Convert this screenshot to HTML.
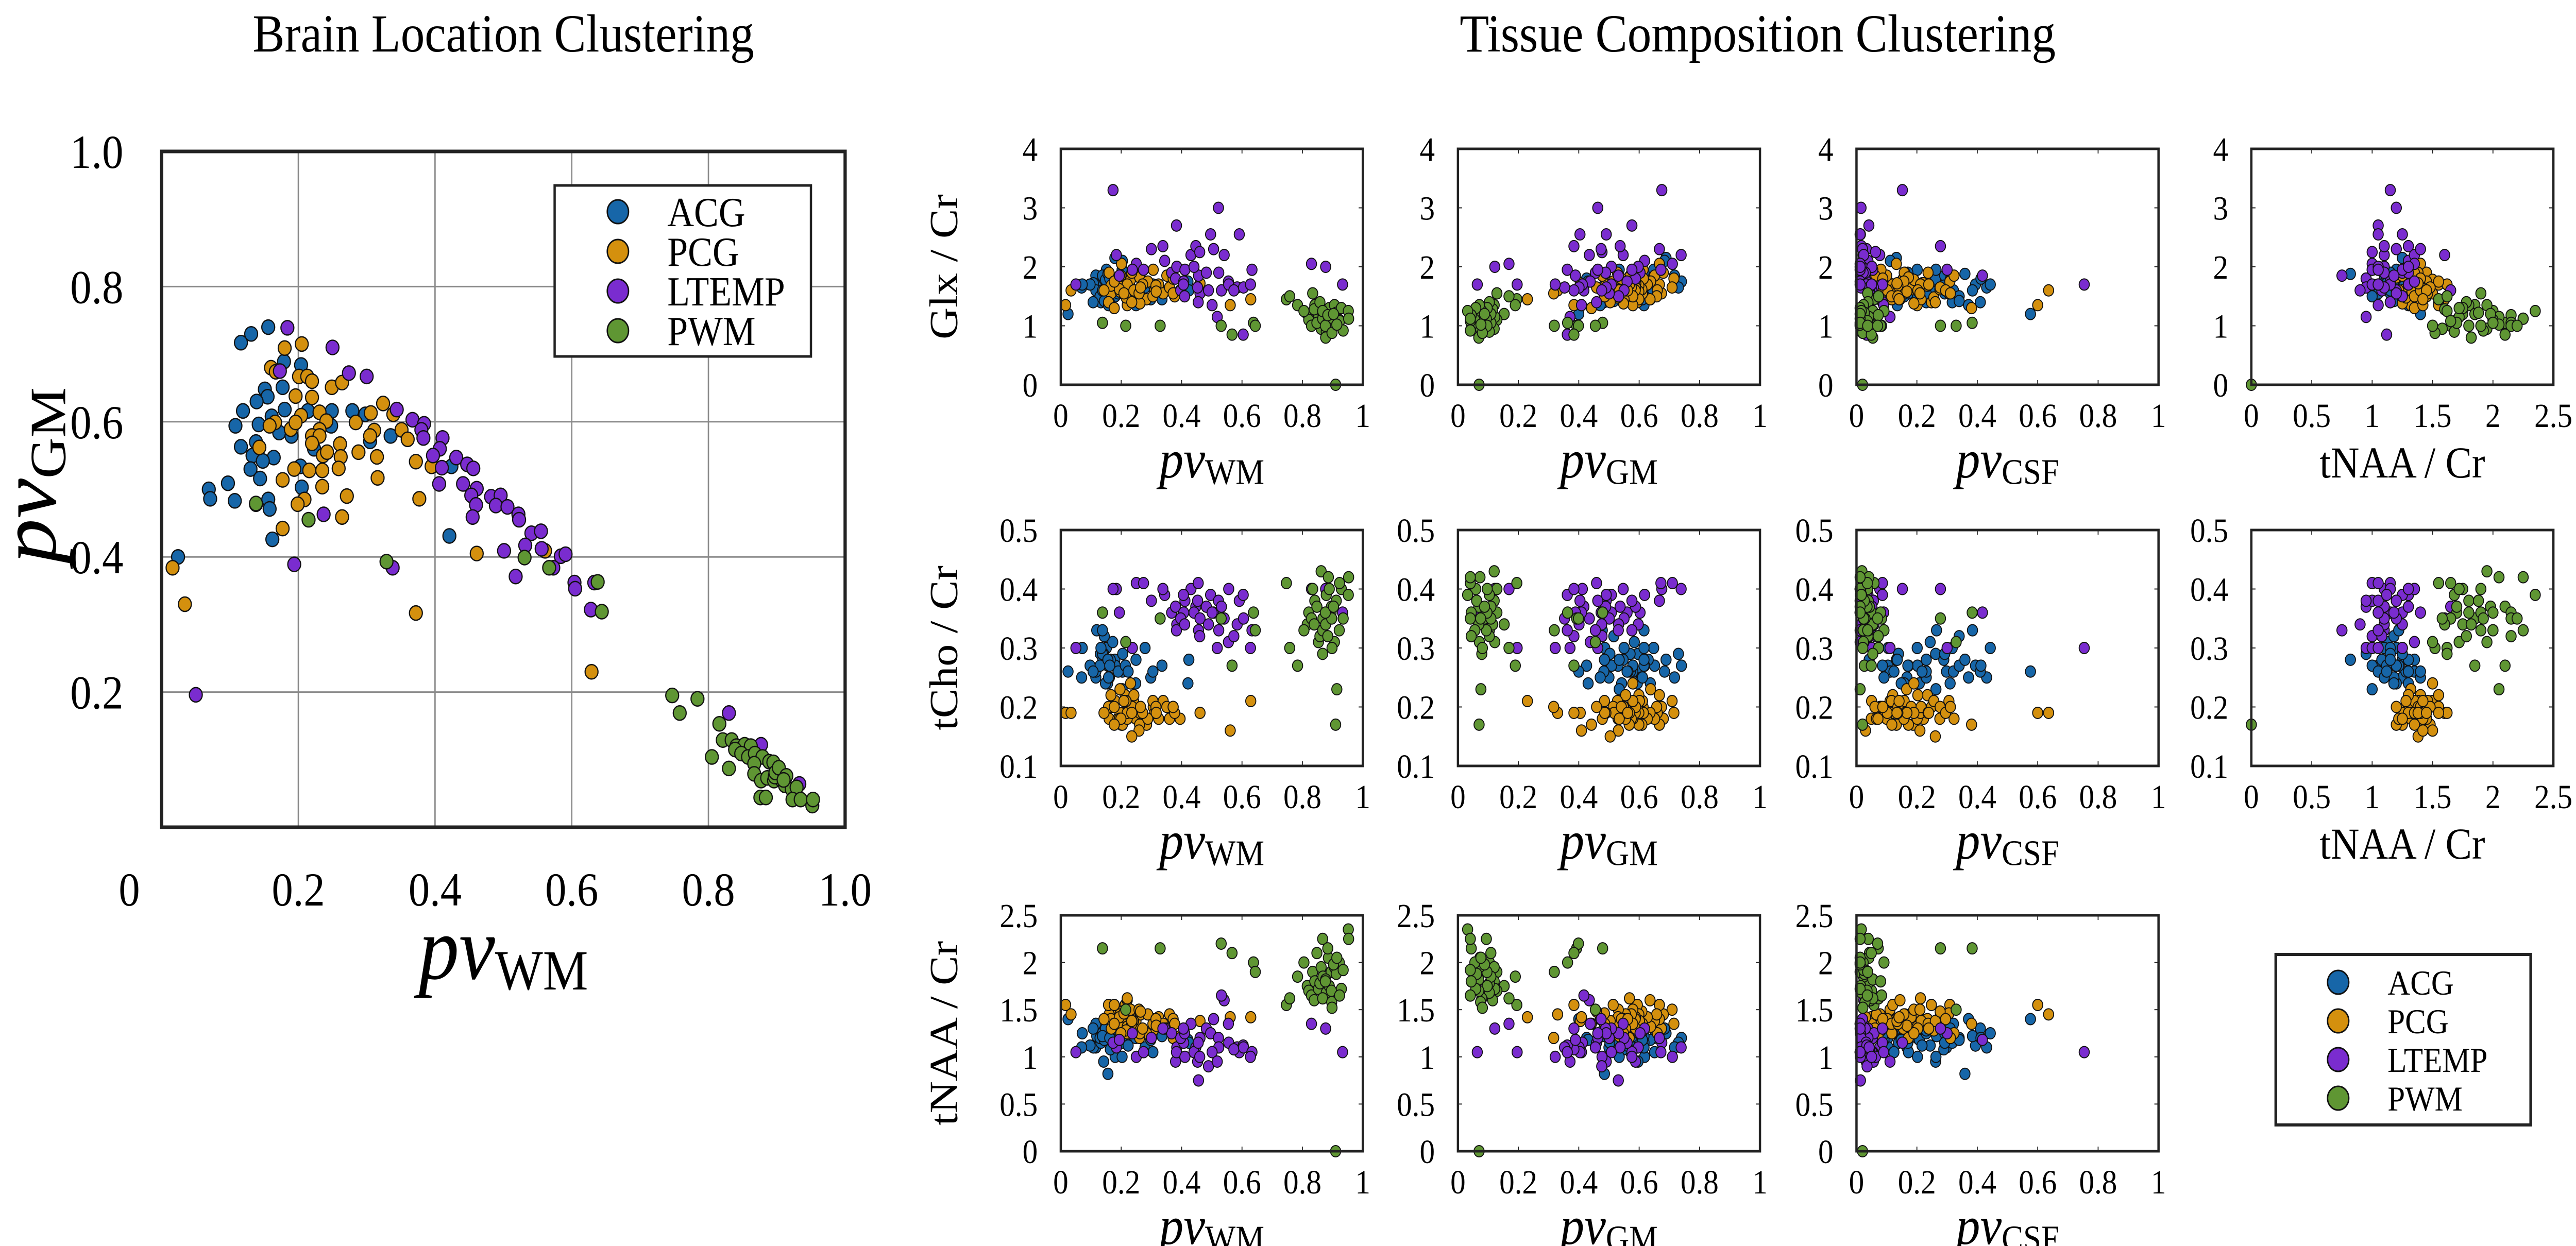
<!DOCTYPE html>
<html><head><meta charset="utf-8">
<style>
html,body{margin:0;padding:0;background:#fff;width:100%;height:100%;overflow:hidden;}
svg{display:block;font-family:"Liberation Serif",serif;width:100vw;height:100vh;}
</style></head>
<body>
<svg id="fig" xmlns="http://www.w3.org/2000/svg" viewBox="0 0 5578 2419" preserveAspectRatio="none">
<rect x="0" y="0" width="5578" height="2419" fill="#fff"/>
<text x="1090" y="100" font-size="104" text-anchor="middle">Brain Location Clustering</text>
<text x="3806" y="100" font-size="104" text-anchor="middle">Tissue Composition Clustering</text>
<g id="root"></g>
</svg>
<script>
// group names and colors
const groups = ["ACG","PCG","LTEMP","PWM"];
const colors = ["#1766a8","#d4900e","#7a2ccf","#5f9633"];
// per-group sample data: pvWM, pvGM, Glx/Cr, tCho/Cr, tNAA/Cr
const acgWM = [.156,.131,.116,.179,.204,.151,.177,.155,.119,.139,.18,.108,.142,.161,.172,.19,.214,.248,.249,.279,.298,.305,.335,.116,.138,.133,.164,.13,.148,.144,.203,.097,.069,.071,.107,.205,.156,.138,.158,.162,.024,.421,.424,.223];
const acgGM = [.74,.73,.717,.689,.684,.648,.651,.637,.616,.63,.618,.594,.596,.608,.584,.579,.616,.594,.616,.616,.611,.571,.579,.563,.57,.55,.547,.53,.542,.516,.534,.509,.5,.486,.483,.503,.485,.478,.471,.426,.40,.431,.534,.56];
const acgGlx = [1.75,1.65,1.85,2.15,2.10,1.95,1.55,1.45,1.70,1.60,1.50,1.72,1.80,1.40,1.62,1.55,1.90,1.50,1.35,1.65,1.45,1.70,1.45,1.60,1.85,1.40,1.68,1.50,1.78,1.42,1.95,1.70,1.65,1.70,1.40,1.55,1.88,1.60,1.35,1.80,1.20,1.75,1.60,1.72];
const acgCho = [.27,.29,.25,.28,.26,.30,.27,.24,.33,.28,.27,.26,.29,.25,.31,.26,.27,.24,.28,.30,.25,.26,.27,.26,.29,.30,.28,.27,.24,.32,.23,.27,.25,.30,.26,.29,.28,.33,.25,.27,.26,.24,.28,.26];
const acgNAA = [1.20,1.15,1.10,1.25,1.30,1.20,1.05,1.18,1.22,1.35,1.00,1.10,0.95,1.25,1.12,1.28,1.15,1.20,1.30,1.10,1.18,1.05,1.22,1.35,1.25,1.15,1.08,1.20,1.30,1.18,1.00,1.12,1.10,1.25,1.30,1.15,0.82,1.22,1.40,1.20,1.40,1.18,1.15,1.12];

const pcgWM = [.205,.18,.16,.167,.201,.213,.22,.249,.264,.196,.22,.324,.306,.339,.204,.231,.166,.158,.189,.196,.241,.284,.231,.22,.231,.311,.351,.36,.305,.261,.22,.236,.242,.288,.262,.315,.259,.235,.216,.194,.177,.316,.372,.395,.235,.271,.209,.199,.377,.264,.177,.143,.461,.561,.016,.034,.372,.629];
const pcgGM = [.715,.709,.68,.674,.667,.667,.66,.651,.658,.638,.636,.627,.613,.611,.609,.614,.599,.594,.589,.599,.601,.599,.588,.579,.579,.587,.588,.574,.579,.567,.568,.55,.555,.555,.548,.548,.531,.528,.528,.53,.514,.517,.541,.534,.504,.49,.485,.478,.486,.459,.442,.562,.405,.409,.384,.33,.317,.23];
const pcgGlx = [1.80,1.65,1.90,1.55,2.05,1.70,1.60,1.85,1.50,1.75,1.45,1.70,1.95,1.55,1.62,1.80,1.68,1.40,1.72,1.58,1.90,1.45,1.65,1.35,1.78,1.60,1.85,1.65,1.50,1.82,1.70,1.45,1.60,1.75,1.38,1.68,1.55,1.90,1.48,1.62,1.75,1.58,1.80,1.60,1.40,1.70,1.55,1.85,1.50,1.65,1.30,1.60,1.72,1.35,1.35,1.60,1.55,1.45];
const pcgCho = [.19,.21,.18,.20,.17,.22,.19,.18,.20,.23,.19,.18,.20,.21,.17,.19,.22,.20,.18,.19,.21,.17,.20,.18,.24,.19,.20,.18,.21,.17,.19,.20,.22,.18,.19,.20,.16,.19,.21,.18,.20,.19,.20,.18,.15,.19,.21,.18,.19,.20,.17,.19,.19,.16,.19,.19,.20,.21];
const pcgNAA = [1.35,1.50,1.45,1.30,1.40,1.55,1.25,1.38,1.45,1.32,1.60,1.42,1.28,1.35,1.48,1.30,1.40,1.55,1.35,1.45,1.38,1.25,1.42,1.32,1.50,1.40,1.30,1.45,1.35,1.20,1.62,1.38,1.30,1.45,1.25,1.40,1.50,1.35,1.28,1.42,1.55,1.33,1.40,1.22,1.38,1.30,1.46,1.25,1.35,1.48,1.35,1.40,1.38,1.42,1.55,1.45,1.20,1.42];

const ltWM = [.184,.25,.173,.274,.3,.344,.367,.384,.38,.383,.411,.407,.397,.431,.41,.447,.456,.406,.441,.461,.453,.46,.455,.482,.496,.489,.506,.522,.523,.541,.555,.532,.556,.501,.518,.584,.591,.573,.604,.605,.633,.628,.237,.194,.338,.05,.83,.877,.933];
const ltGM = [.739,.71,.675,.672,.667,.618,.603,.597,.588,.576,.576,.56,.55,.547,.532,.537,.531,.508,.508,.501,.491,.477,.459,.489,.491,.476,.474,.463,.455,.435,.438,.417,.412,.409,.371,.401,.404,.384,.362,.353,.362,.322,.463,.389,.384,.196,.169,.122,.064];
const ltGlx = [2.20,2.05,3.30,1.95,2.30,2.10,1.90,2.00,1.80,2.70,1.95,1.75,1.60,2.20,1.50,2.35,1.85,1.70,2.00,1.55,1.65,2.25,1.40,1.90,2.55,1.60,2.30,3.00,1.90,2.20,1.75,1.60,1.70,1.35,1.15,1.65,2.55,1.60,0.85,1.65,1.95,1.70,1.95,1.85,2.35,1.70,2.05,2.00,1.70];
const ltCho = [.40,.41,.40,.41,.38,.39,.36,.34,.37,.33,.38,.36,.35,.40,.34,.37,.33,.39,.36,.35,.38,.32,.41,.37,.39,.34,.36,.38,.33,.35,.31,.37,.40,.36,.30,.34,.38,.32,.39,.35,.33,.30,.30,.36,.40,.30,.40,.40,.36];
const ltNAA = [1.10,1.00,1.15,1.05,1.20,1.30,1.25,1.10,0.95,1.05,1.00,1.15,1.20,1.35,1.25,1.10,0.75,1.30,1.05,1.20,0.95,1.00,1.15,1.30,1.25,0.90,1.40,1.20,1.10,1.60,1.35,1.65,1.15,1.05,0.95,1.10,1.05,1.08,1.12,1.10,1.05,1.00,1.25,1.18,1.30,1.05,1.35,1.30,1.05];

const pwmWM = [.747,.784,.758,.816,.821,.834,.805,.83,.841,.853,.862,.839,.848,.858,.868,.879,.867,.889,.895,.867,.877,.886,.896,.906,.897,.912,.922,.929,.876,.884,.923,.935,.952,.953,.898,.903,.914,.91,.138,.215,.329,.531,.567,.638,.644];
const pwmGM = [.195,.19,.169,.153,.129,.129,.104,.087,.12,.122,.12,.115,.109,.104,.109,.104,.094,.097,.096,.079,.069,.073,.069,.071,.075,.062,.056,.059,.044,.044,.041,.041,.032,.041,.081,.088,.076,.07,.479,.455,.393,.399,.384,.363,.319];
const pwmGlx = [1.45,1.35,1.50,1.20,1.10,1.55,1.25,1.00,1.35,1.15,0.95,1.28,1.05,1.40,1.20,0.90,1.12,1.30,1.00,1.25,0.80,1.15,1.05,1.35,0.95,1.22,1.10,1.30,1.00,1.18,1.08,0.92,1.25,1.12,0.88,1.20,1.02,0.00,1.05,1.00,1.00,1.00,0.85,1.05,1.00];
const pwmCho = [.41,.27,.30,.34,.36,.40,.33,.35,.38,.31,.43,.34,.37,.32,.35,.39,.33,.40,.36,.29,.34,.42,.37,.31,.35,.38,.33,.40,.36,.32,.41,.35,.39,.42,.30,.37,.23,.17,.36,.31,.35,.35,.27,.36,.33];
const pwmNAA = [1.55,1.85,1.62,1.75,1.70,1.90,2.00,1.65,1.80,1.72,1.95,1.60,2.10,1.78,1.85,1.68,2.25,1.75,1.90,1.62,1.82,2.05,1.70,1.95,1.58,1.88,2.00,1.72,1.80,2.15,1.65,1.92,2.35,2.25,1.52,1.98,2.05,0.00,2.15,1.50,2.15,2.20,2.10,2.00,1.90];

const WM=[acgWM,pcgWM,ltWM,pwmWM], GM=[acgGM,pcgGM,ltGM,pwmGM];
const GLX=[acgGlx,pcgGlx,ltGlx,pwmGlx], CHO=[acgCho,pcgCho,ltCho,pwmCho], NAA=[acgNAA,pcgNAA,ltNAA,pwmNAA];
const CSF = WM.map((w,g)=>w.map((v,i)=>Math.max(0.012,1-v-GM[g][i])));

const leftTicks = ["0","0.2","0.4","0.6","0.8","1.0"];
const pvTicks = ["0","0.2","0.4","0.6","0.8","1"];
const naaXTicks = ["0","0.5","1","1.5","2","2.5"];
const glxTicks = ["0","1","2","3","4"];
const choTicks = ["0.1","0.2","0.3","0.4","0.5"];
const naaTicks = ["0","0.5","1","1.5","2","2.5"];

const NS="http://www.w3.org/2000/svg";
const root=document.getElementById('root');
function mk(tag,attrs,parent){const e=document.createElementNS(NS,tag);for(const k in attrs)e.setAttribute(k,attrs[k]);(parent||root).appendChild(e);return e;}
function txt(parent,x,y,s,size,anchor,extra){const t=mk('text',Object.assign({x:x,y:y,'font-size':size,'text-anchor':anchor||'middle'},extra||{}),parent);t.textContent=s;return t;}
function pvLabel(parent,cx,y,sub,size,subsize){
  const t=mk('text',{x:cx,y:y,'text-anchor':'middle','font-size':size},parent);
  const a=mk('tspan',{'font-style':'italic'},t);a.textContent='pv';
  const b=mk('tspan',{'font-size':subsize,dy:size*0.12},t);b.textContent=sub;
  return t;
}

// ---------- left plot ----------
const L={x0:350,x1:1830,y0:1606,y1:294};
const lx=v=>L.x0+(L.x1-L.x0)*v, ly=v=>L.y0-(L.y0-L.y1)*v;
const lg=mk('g',{});


for(let i=1;i<5;i++){
  const gv=mk('line',{x1:lx(i*0.2),x2:lx(i*0.2),y1:L.y1,y2:L.y0,stroke:'#8a8a8a','stroke-width':3},lg);
  
  
  const gh=mk('line',{x1:L.x0,x2:L.x1,y1:ly(i*0.2),y2:ly(i*0.2),stroke:'#8a8a8a','stroke-width':3},lg);
  
  
}
leftTicks.forEach((s,i)=>{
  const tx=txt(lg,i===0?lx(0)-70:lx(i*0.2),1758,s,92);
  
  
  if(i>0){const ty=txt(lg,267,ly(i*0.2)+32,s,92,'end');
  
  }
});
for(let g=0;g<4;g++){
  WM[g].forEach((w,i)=>{
    const c=mk('circle',{cx:lx(w),cy:ly(GM[g][i]),r:14,fill:colors[g],stroke:'#111','stroke-width':2.5},lg);
    
    
  });
}
const lf=mk('rect',{x:L.x0,y:L.y1,width:L.x1-L.x0,height:L.y0-L.y1,fill:'none',stroke:'#222','stroke-width':7},lg);


const lxl=pvLabel(lg,1090,1900,'WM',175,110);


const yg=mk('g',{transform:'translate(120,923) rotate(-90)'},lg);
const lyl=pvLabel(yg,0,0,'GM',175,110);


// left legend
const leg1=mk('g',{},lg);


mk('rect',{x:1201,y:360,width:555,height:332,fill:'#fff',stroke:'#222','stroke-width':5},leg1);
groups.forEach((n,g)=>{
  const yy=411+g*77;
  const m=mk('circle',{cx:1338,cy:yy,r:23,fill:colors[g],stroke:'#111','stroke-width':3},leg1);
  
  
  const t=txt(leg1,1445,yy+28,n,80,'start');
  
  
});

// ---------- grid of small plots ----------
const colX=[2297,3157,4020,4875], rowY=[289,1029,1777], PW=654, PH=458;
const yAxes=[{min:0,max:4,ticks:glxTicks,data:GLX,label:'Glx / Cr'},{min:0.1,max:0.5,ticks:choTicks,data:CHO,label:'tCho / Cr'},{min:0,max:2.5,ticks:naaTicks,data:NAA,label:'tNAA / Cr'}];
const xAxes=[{min:0,max:1,ticks:pvTicks,data:WM,sub:'WM'},{min:0,max:1,ticks:pvTicks,data:GM,sub:'GM'},{min:0,max:1,ticks:pvTicks,data:CSF,sub:'CSF'},{min:0,max:2.5,ticks:naaXTicks,data:NAA,label:'tNAA / Cr'}];
for(let r=0;r<3;r++){
  const ya=yAxes[r];
  const yl=mk('text',{x:0,y:0,'font-size':86,'text-anchor':'middle',transform:`translate(${2072},${rowY[r]+PH/2}) rotate(-90)`});
  yl.textContent=ya.label;
  
  
  for(let c=0;c<4;c++){
    if(r===2&&c===3)continue;
    const xa=xAxes[c];
    const x0=colX[c],y0=rowY[r];
    const sx=v=>x0+PW*(v-xa.min)/(xa.max-xa.min);
    const sy=v=>y0+PH-PH*(v-ya.min)/(ya.max-ya.min);
    const g=mk('g',{});
    
    
    xa.ticks.forEach((s,i)=>{
      const v=xa.min+i*(xa.max-xa.min)/(xa.ticks.length-1);
      const t=txt(g,sx(v),y0+PH+82,s,66);
      
      
      mk('line',{x1:sx(v),x2:sx(v),y1:y0+PH,y2:y0+PH-9,stroke:'#222','stroke-width':2},g);
      mk('line',{x1:sx(v),x2:sx(v),y1:y0,y2:y0+9,stroke:'#222','stroke-width':2},g);
    });
    ya.ticks.forEach((s,i)=>{
      const v=ya.min+i*(ya.max-ya.min)/(ya.ticks.length-1);
      const t=txt(g,x0-50,sy(v)+23,s,66,'end');
      
      
      mk('line',{x1:x0,x2:x0+9,y1:sy(v),y2:sy(v),stroke:'#222','stroke-width':2},g);
      mk('line',{x1:x0+PW,x2:x0+PW-9,y1:sy(v),y2:sy(v),stroke:'#222','stroke-width':2},g);
    });
    for(let k=0;k<4;k++){
      xa.data[k].forEach((xv,i)=>{
        const yv=ya.data[k][i];
        const p=mk('circle',{cx:sx(xv),cy:sy(yv),r:11,fill:colors[k],stroke:'#111','stroke-width':2},g);
        
        
      });
    }
    mk('rect',{x:x0,y:y0,width:PW,height:PH,fill:'none',stroke:'#222','stroke-width':5},g);
    let xl;
    if(xa.sub){xl=pvLabel(g,x0+PW/2,y0+PH+180,xa.sub,105,70);}
    else{xl=txt(g,x0+PW/2,y0+PH+180,xa.label,86);}
    
    
  }
}
// right legend
const leg2=mk('g',{});


mk('rect',{x:4928,y:1853,width:552,height:331,fill:'#fff',stroke:'#222','stroke-width':6},leg2);
groups.forEach((n,g)=>{
  const yy=1907+g*75;
  const m=mk('circle',{cx:5063,cy:yy,r:23,fill:colors[g],stroke:'#111','stroke-width':3},leg2);
  
  
  const t=txt(leg2,5170,yy+24,n,68,'start');
  
  
});
</script>
</body></html>
